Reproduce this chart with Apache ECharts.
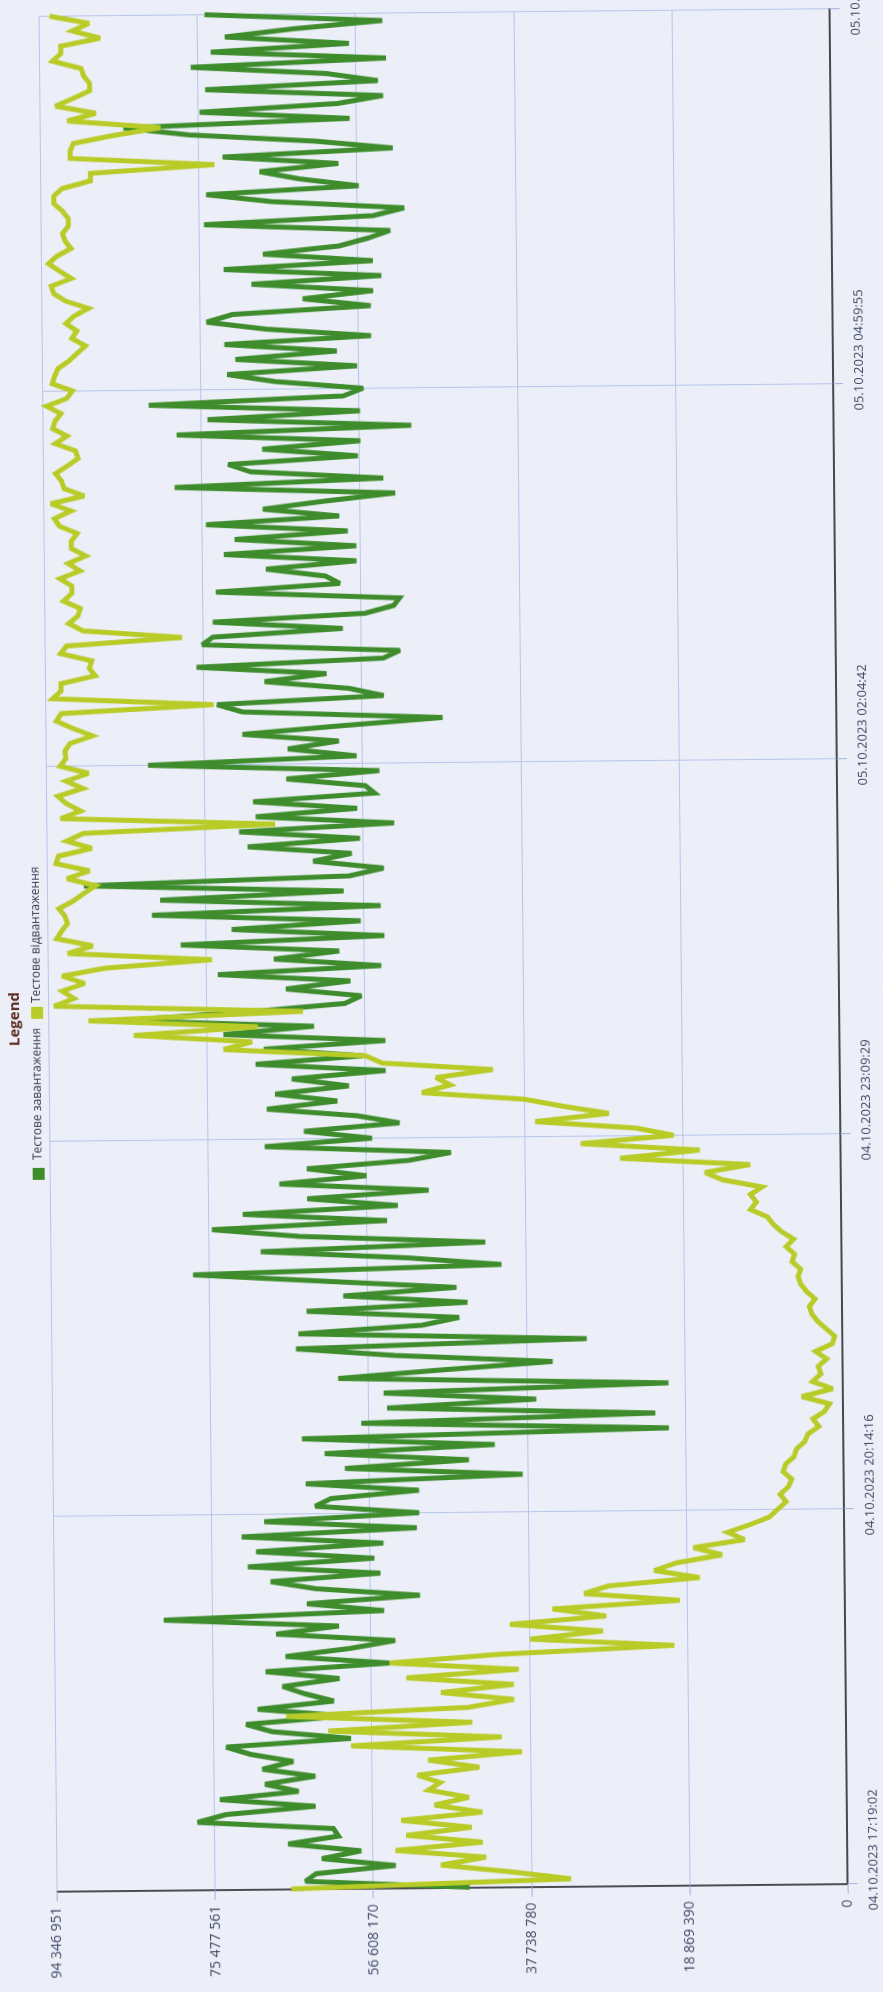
<!DOCTYPE html>
<html>
<head>
<meta charset="utf-8">
<script src="https://cdn.jsdelivr.net/npm/echarts@6/dist/echarts.min.js"></script>
<style>
  html, body { margin: 0; padding: 0; background: #eceff8; overflow: hidden; }
  #c { width: 883px; height: 1992px; transform: rotate(-0.55deg); transform-origin: 50% 50%; }
</style>
</head>
<body>
<div id="c"></div>
<script>
// ---- Data (values in millions; one sample every SAMPLE_SEC seconds from 04.10.2023 17:19:02) ----
const SAMPLE_SEC = 210.264;
const seriesNames = ['Тестове завантаження', 'Тестове відвантаження'];

const loadValues = [
45.1,64.7,63.4,53.9,62.7,58.0,66.7,60.7,61.3,77.5,74.1,63.4,74.8,65.4,69.4,63.4,69.7,66.0,71.1,
74.0,59.1,68.5,71.6,59.8,70.2,61.1,64.5,67.2,60.4,69.2,54.4,66.8,59.1,53.7,67.9,60.4,81.3,55.0,
64.2,50.7,63.1,68.5,55.4,71.2,56.1,70.2,55.0,71.9,51.0,69.2,50.7,63.1,
61.2,50.7,64.2,38.3,59.5,44.7,61.9,41.6,64.6,20.8,57.5,22.4,54.4,36.6,54.8,20.8,60.2,48.0,34.6,
53.4,65.2,30.5,64.9,50.1,45.7,63.9,44.7,59.5,46.0,61.9,77.4,40.6,51.8,69.3,
42.5,64.7,75.1,54.2,71.4,52.9,63.7,49.2,67.0,56.6,63.7,51.5,46.5,68.7,55.9,64.0,52.6,57.6,68.4,
60.0,67.4,58.6,65.4,54.2,69.7,56.9,68.7,54.2,73.5,62.7,85.9,70.4,59.0,
57.0,66.0,58.3,74.1,54.6,67.4,59.6,78.5,54.2,72.4,57.0,81.9,54.6,80.9,59.0,90.0,58.3,54.2,62.6,
58.0,70.4,57.0,71.4,52.9,69.4,57.3,69.7,55.2,56.3,65.7,54.6,82.2,57.3,
65.5,59.4,70.9,59.4,47.0,70.9,73.9,54.0,58.1,68.2,60.8,76.3,54.0,52.0,75.6,74.3,58.8,74.3,56.1,
52.7,52.0,73.9,59.1,60.8,67.9,57.1,72.9,57.1,71.6,58.1,75.0,59.1,68.2,60.8,
52.4,78.7,53.8,69.6,72.3,56.8,68.2,56.5,78.4,50.4,74.7,56.5,81.7,58.5,56.1,66.6,72.3,56.8,71.3,
59.2,72.6,55.1,67.6,74.7,71.6,55.1,63.2,54.8,69.3,53.8,72.6,54.8,67.9,
58.8,55.4,52.7,74.9,54.7,51.0,66.8,74.6,56.4,63.5,68.2,58.8,72.6,52.3,61.5,76.6,84.4,57.4,75.3,
58.8,53.4,74.6,54.0,60.1,76.3,53.0,73.9,57.4,72.2,64.1,53.4,74.6
];

const unloadValues = [
66.4,33.0,40.1,48.5,43.1,53.9,43.5,52.6,44.8,53.2,43.5,49.2,45.1,49.9,48.5,51.2,43.8,49.9,38.7,
59.1,41.1,61.8,44.6,66.8,45.0,39.6,48.3,39.6,52.4,39.0,54.4,41.6,20.4,37.6,28.9,40.0,28.5,34.9,
19.7,31.1,28.2,17.3,22.7,20.0,14.6,18.0,11.9,13.9,11.2,8.9,7.9,6.9,
7.6,6.6,6.2,7.2,6.9,5.9,5.6,4.6,4.2,2.9,3.6,2.2,1.6,4.9,1.2,3.6,2.6,2.9,1.9,3.2,1.2,0.9,1.9,2.9,
3.6,3.9,3.2,4.2,4.9,5.2,4.9,5.9,5.6,6.6,
5.7,7.1,8.1,8.8,10.8,10.1,10.8,9.4,14.1,16.2,10.8,26.3,16.8,31.0,19.9,24.3,36.4,27.6,33.0,37.7,
49.9,46.5,48.2,41.4,54.6,56.6,73.5,70.1,84.2,69.4,89.6,64.0,93.7,
91.3,92.7,90.0,92.7,87.6,74.8,92.0,89.0,93.3,92.7,92.0,92.3,93.0,91.3,90.0,88.6,92.0,89.3,93.3,
93.0,89.0,92.0,90.0,67.1,92.7,90.3,92.0,93.0,90.0,92.0,89.3,92.7,92.0,
92.1,91.5,88.8,91.1,93.1,92.5,74.3,93.5,92.5,92.5,88.4,89.1,88.8,92.5,91.8,78.0,89.8,91.5,90.4,
90.1,92.1,91.1,91.1,92.5,90.1,91.5,89.4,91.1,91.1,90.4,92.5,93.1,91.1,93.5,
89.5,91.9,92.2,92.9,91.5,90.2,90.5,92.9,91.5,93.2,92.9,92.2,93.9,91.5,90.8,93.2,92.9,92.5,91.2,
90.2,89.2,90.8,90.2,91.5,90.5,88.8,91.5,92.9,93.2,90.8,92.2,93.5,92.5,
90.8,91.5,91.8,91.1,91.1,91.8,92.8,92.8,91.8,88.4,88.4,73.6,90.8,90.8,90.4,85.7,80.0,91.1,87.7,
92.5,90.4,88.4,88.4,89.1,89.4,92.8,91.8,91.8,87.1,90.4,88.4,93.1
];

const valueTickLabels = ['0', '18 869 390', '37 738 780', '56 608 170', '75 477 561', '94 346 951'];
const timeTickLabels = ['04.10.2023 17:19:02', '04.10.2023 20:14:16', '04.10.2023 23:09:29',
                        '05.10.2023 02:04:42', '05.10.2023 04:59:55', '05.10.2023 07:55:08'];

// ---- Axis settings ----
const VALUE_STEP = 18.8693902;          // millions
const VALUE_MAX = 94.346951;
const SAMPLES_PER_TICK = 50;
const SAMPLE_MAX = 250;

const chart = echarts.init(document.getElementById('c'), null, { renderer: 'canvas', width: 883, height: 1992 });

const toPairs = arr => arr.map((v, i) => [v, i]);

const option = {
  backgroundColor: '#eceff8',
  animation: false,
  grid: { left: 48.5, right: 44, top: 12.5, bottom: 104.5, show: true, borderColor: '#8c8c8c', borderWidth: 1,
          containLabel: false, outerBoundsMode: 'none' },
  xAxis: {
    type: 'value', inverse: true, min: 0, max: VALUE_MAX, interval: VALUE_STEP, position: 'bottom',
    axisLine: { show: true, onZero: false, lineStyle: { color: '#1f1f1f', width: 1.5 } },
    axisTick: { show: true, length: 10, lineStyle: { color: '#9fb1da' } },
    splitLine: { show: true, lineStyle: { color: '#b7c5ec', width: 1 } },
    axisLabel: {
      rotate: 90, margin: 16, fontSize: 14, fontFamily: 'Open Sans', color: '#3c4562',
      showMinLabel: true, showMaxLabel: true,
      formatter: v => valueTickLabels[Math.round(v / VALUE_STEP)]
    }
  },
  yAxis: {
    type: 'value', position: 'right', min: 0, max: SAMPLE_MAX, interval: SAMPLES_PER_TICK,
    axisLine: { show: true, onZero: false, lineStyle: { color: '#1f1f1f', width: 1.5 } },
    axisTick: { show: true, length: 10, lineStyle: { color: '#9fb1da' } },
    splitLine: { show: true, lineStyle: { color: '#b7c5ec', width: 1 } },
    axisLabel: {
      rotate: 90, margin: 20, fontSize: 13, fontFamily: 'Open Sans', color: '#3c4562',
      align: 'left', verticalAlign: 'top', padding: [0, 0, 0, -27],
      showMinLabel: true, showMaxLabel: true,
      formatter: v => timeTickLabels[Math.round(v / SAMPLES_PER_TICK)]
    }
  },
  series: [
    {
      name: seriesNames[0], type: 'line', data: toPairs(loadValues), showSymbol: false,
      lineStyle: { color: '#3e8c2c', width: 5, join: 'miter', miterLimit: 3 }, itemStyle: { color: '#3e8c2c' }, z: 2
    },
    {
      name: seriesNames[1], type: 'line', data: toPairs(unloadValues), showSymbol: false,
      lineStyle: { color: '#b8cb26', width: 5, join: 'miter', miterLimit: 3 }, itemStyle: { color: '#b8cb26' }, z: 3
    }
  ],
  graphic: [
    { type: 'text', x: 15, y: 1042, rotation: Math.PI / 2,
      style: { text: 'Legend', font: 'bold 15px "Open Sans"', fill: '#5b2a20', align: 'left', verticalAlign: 'middle' } },
    { type: 'rect', shape: { x: 31, y: 1164, width: 12, height: 12 }, style: { fill: '#3e8c2c' } },
    { type: 'text', x: 37, y: 1156, rotation: Math.PI / 2,
      style: { text: seriesNames[0], font: '12px "Open Sans"', fill: '#343a4c', align: 'left', verticalAlign: 'middle' } },
    { type: 'rect', shape: { x: 31, y: 1003, width: 12, height: 12 }, style: { fill: '#b8cb26' } },
    { type: 'text', x: 37, y: 999, rotation: Math.PI / 2,
      style: { text: seriesNames[1], font: '12px "Open Sans"', fill: '#343a4c', align: 'left', verticalAlign: 'middle' } }
  ]
};
chart.setOption(option);
</script>
</body>
</html>
